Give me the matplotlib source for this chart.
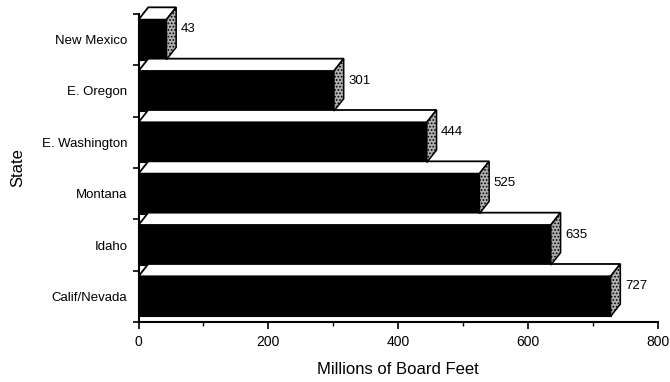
import matplotlib
matplotlib.use("Agg")
import matplotlib.pyplot as plt
from matplotlib.patches import Polygon
from matplotlib.ticker import MultipleLocator, FixedLocator
import numpy as np

states = ["Calif/Nevada", "Idaho", "Montana", "E. Washington", "E. Oregon", "New Mexico"]
board_feet = [727, 635, 525, 444, 301, 43]

plt.rcParams['font.family'] = ['Liberation Sans', 'DejaVu Sans']
plt.rcParams['hatch.color'] = '#444444'
plt.rcParams['hatch.linewidth'] = 0.8

fig = plt.figure(figsize=(6.7, 3.82), dpi=100)
ax = fig.add_axes([138.5 / 670, 1 - 322 / 382, (658 - 138.5) / 670, (322 - 14) / 382])

pos = np.arange(len(states))
height = 0.78
depth_x = 15      # horizontal depth of the 3-D extrusion, data units
depth_y = 0.24    # vertical depth of the 3-D extrusion, data units

ax.barh(pos, board_feet, height=height, color='black', edgecolor='black',
        lw=0.8, zorder=2, clip_on=False)
for y, v in zip(pos, board_feet):
    y0, y1 = y - height / 2, y + height / 2
    top = Polygon([(0, y1), (v, y1), (v + depth_x, y1 + depth_y), (depth_x, y1 + depth_y)],
                  closed=True, facecolor='white', edgecolor='black', lw=1.3,
                  zorder=3, clip_on=False)
    side = Polygon([(v, y0), (v + depth_x, y0 + depth_y), (v + depth_x, y1 + depth_y), (v, y1)],
                   closed=True, facecolor='#b0b0b0', edgecolor='black', hatch='.....',
                   lw=1.1, zorder=3, clip_on=False)
    ax.add_patch(top)
    ax.add_patch(side)
    ax.text(v + depth_x + 7, y + 0.2, str(v), va='center', ha='left', fontsize=9.5)

ax.set_xlim(0, 800)
ax.set_ylim(-0.5, len(states) - 0.5)

ax.set_yticks(pos)
ax.set_yticklabels(states, fontsize=9.5)
ax.yaxis.set_minor_locator(FixedLocator(np.arange(-0.5, len(states), 1.0)))
ax.tick_params(axis='y', which='major', length=0, pad=8)
ax.tick_params(axis='y', which='minor', length=4, width=1.2, direction='out')

ax.xaxis.set_major_locator(MultipleLocator(200))
ax.xaxis.set_minor_locator(MultipleLocator(100))
ax.tick_params(axis='x', which='major', length=5, width=1.2, direction='out', labelsize=10, pad=4)
ax.tick_params(axis='x', which='minor', length=3, width=1.0, direction='out')

for s in ['top', 'right']:
    ax.spines[s].set_visible(False)
for s in ['left', 'bottom']:
    ax.spines[s].set_linewidth(1.5)

ax.set_xlabel('Millions of Board Feet', fontsize=12, labelpad=10)
ax.set_ylabel('State', fontsize=12, labelpad=12)

fig.savefig('out.png', dpi=100, facecolor='white')
